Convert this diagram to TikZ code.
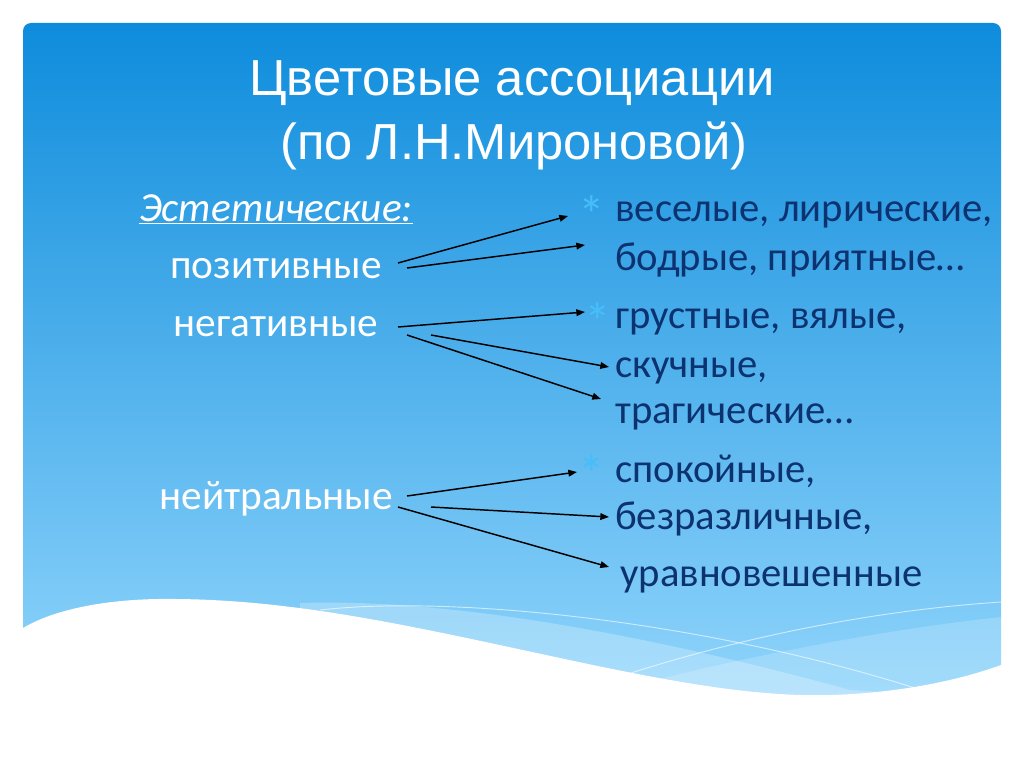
\documentclass[tikz,border=0pt]{standalone}
\usepackage{fontspec}
\setmainfont{Carlito}
\newfontfamily\titlefont{Liberation Sans}
\usetikzlibrary{arrows.meta}
\definecolor{slidetop}{RGB}{14,140,220}
\definecolor{slidebot}{RGB}{146,214,252}
\definecolor{navy}{RGB}{12,50,112}
\definecolor{bul}{RGB}{70,190,250}
\tikzset{
  titletxt/.style={text=white, font=\titlefont\fontsize{38}{40}\selectfont, inner sep=0pt, anchor=base},
  lefttxt/.style={text=white, font=\fontsize{31}{34}\selectfont, inner sep=0pt, anchor=base},
  righttxt/.style={text=navy, font=\fontsize{30.5}{34}\selectfont, inner sep=0pt, anchor=base west},
  bullet/.style={text=bul, font=\fontsize{40}{42}\selectfont, inner sep=0pt},
  conn/.style={black, line width=1.1pt, -{Triangle[length=6.5pt,width=5pt]}},
  wline/.style={white, opacity=0.6, line width=0.7pt}
}
\begin{document}
\begin{tikzpicture}[x=0.75pt,y=-0.75pt]
\useasboundingbox (0,0) rectangle (1024,767);
\fill[white] (0,0) rectangle (1024,767);
% slide background
\shade[top color=slidetop, bottom color=slidebot, rounded corners=6] (23,23) rectangle (1001,710);
% light bands
\fill[white, opacity=0.25] (300,603) .. controls (450,598) and (650,635) .. (850,690) -- (1001,700) -- (1001,740) -- (300,740) -- cycle;
\fill[white, opacity=0.18] (560,705) .. controls (720,660) and (880,630) .. (1001,617) -- (1001,740) -- (560,740) -- cycle;
\draw[wline] (320,610) .. controls (450,595) and (700,620) .. (915,688);
\draw[wline] (631,673) .. controls (750,635) and (880,610) .. (1001,602);
% white wave
\fill[white] (15,632) -- (23,628) .. controls (60,606) and (120,598) .. (176,599) .. controls (300,600) and (420,628) .. (560,658) .. controls (680,684) and (760,697) .. (830,695) .. controls (900,693) and (960,680) .. (1001,665) -- (1010,662) -- (1010,767) -- (15,767) -- cycle;
% title
\node[titletxt] (t1) at (512,95) {Цветовые ассоциации};
\node[titletxt] (t2) at (514,159) {(по Л.Н.Мироновой)};
% left column
\node[lefttxt, font=\itshape\fontsize{31}{34}\selectfont] (est) at (276,221) {\underline{Эстетические:}};
\node[lefttxt] (poz) at (276,278) {позитивные};
\node[lefttxt] (neg) at (276,336) {негативные};
\node[lefttxt] (neu) at (276,509) {нейтральные};
% right column
\node[righttxt] (r1) at (615,221) {веселые, лирические,};
\node[righttxt] (r2) at (615,270) {бодрые, приятные…};
\node[righttxt] (r3) at (615,328) {грустные, вялые,};
\node[righttxt] (r4) at (615,377) {скучные,};
\node[righttxt] (r5) at (615,423) {трагические…};
\node[righttxt] (r6) at (615,482) {спокойные,};
\node[righttxt] (r7) at (615,529) {безразличные,};
\node[righttxt] (r8) at (620,586) {уравновешенные};
% bullets
\node[bullet] (b1) at (592,215) {*};
\node[bullet] (b2) at (598,322) {*};
\node[bullet] (b3) at (592,474) {*};
% arrow end points
\coordinate (s1) at (398,263); \coordinate (e1) at (568,216);
\coordinate (s2) at (407,268); \coordinate (e2) at (585,245);
\coordinate (s3) at (398,327); \coordinate (e3) at (585,312);
\coordinate (s4) at (431,335); \coordinate (e4) at (609,367);
\coordinate (s5) at (407,335); \coordinate (e5) at (601,399);
\coordinate (s6) at (407,496); \coordinate (e6) at (577,472);
\coordinate (s7) at (431,507); \coordinate (e7) at (609,517);
\coordinate (s8) at (398,507); \coordinate (e8) at (609,567);
\foreach \i in {1,...,8} \draw[conn] (s\i) -- (e\i);
\end{tikzpicture}
\end{document}
